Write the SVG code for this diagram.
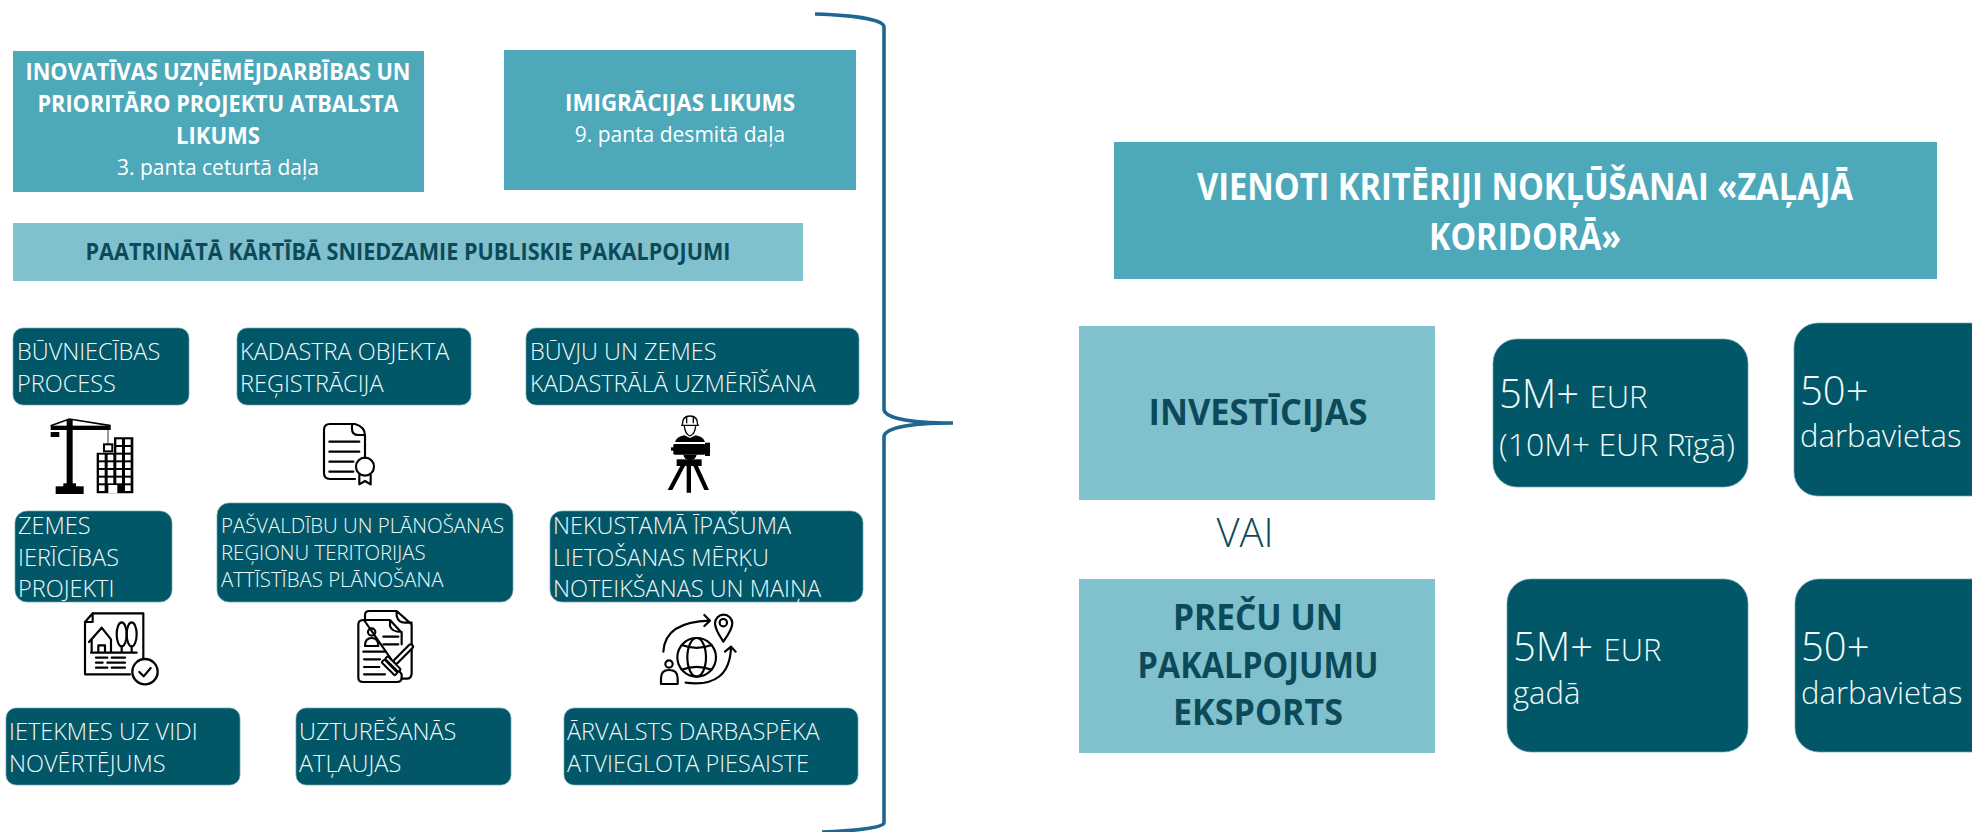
<svg xmlns="http://www.w3.org/2000/svg" width="1972" height="832" viewBox="0 0 1972 832">
<style>
text{font-family:"Open Sans","Noto Sans","Liberation Sans",sans-serif}
.dark{fill:#015767;stroke:#6fa6b1;stroke-width:.7}
.mid{fill:#4da8ba}
.light{fill:#80c1cd}
.c{font-size:23.5px;font-weight:300;fill:#f2fafb}
.p{font-size:20.4px;font-weight:300;fill:#f2fafb}
.hw{font-size:23.5px;font-weight:700;fill:#fff;text-anchor:middle}
.sw{font-size:21px;font-weight:400;fill:#fff;text-anchor:middle}
.hd{font-weight:700;fill:#0c4a5a;text-anchor:middle}
.big{font-size:40px;font-weight:300;fill:#f2fafb}
.mid30{font-size:31px;font-weight:300;fill:#f2fafb}
.ic{fill:none;stroke:#000;stroke-width:6.5;stroke-linecap:round;stroke-linejoin:round}
.blk{fill:#000}
.wht{fill:#fff}
</style>
<g id="connectors">
<path d="M815,14C850,15 884,19 884,27V409C884,417 905,423 953,423C905,423 884,429 884,437V823C884,828 850,831 822,832" fill="none" stroke="#1f6690" stroke-width="3.6"/>
</g>
<g id="law-innovation"><rect class="mid" x="13" y="51" width="411" height="141"/>
<text class="hw" x="218" y="80" textLength="385" lengthAdjust="spacingAndGlyphs">INOVATĪVAS UZŅĒMĒJDARBĪBAS UN</text>
<text class="hw" x="218" y="112" textLength="361" lengthAdjust="spacingAndGlyphs">PRIORITĀRO PROJEKTU ATBALSTA</text>
<text class="hw" x="218" y="144" textLength="84" lengthAdjust="spacingAndGlyphs">LIKUMS</text>
<text class="sw" x="218" y="175">3. panta ceturtā daļa</text></g>
<g id="law-immigration"><rect class="mid" x="504" y="50" width="352" height="140"/>
<text class="hw" x="680" y="111" textLength="230" lengthAdjust="spacingAndGlyphs">IMIGRĀCIJAS LIKUMS</text>
<text class="sw" x="680" y="142">9. panta desmitā daļa</text></g>
<g id="services-title"><rect class="light" x="13" y="223" width="790" height="58"/>
<text class="hd" x="408" y="260" font-size="23.5" textLength="645" lengthAdjust="spacingAndGlyphs">PAATRINĀTĀ KĀRTĪBĀ SNIEDZAMIE PUBLISKIE PAKALPOJUMI</text></g>

<g id="svc-buvniecibas"><rect class="dark" x="13" y="328" width="176" height="77" rx="10"/>
<text class="c" x="17" y="360">BŪVNIECĪBAS</text><text class="c" x="17" y="392">PROCESS</text></g>
<g id="svc-kadastrs"><rect class="dark" x="237" y="328" width="234" height="77" rx="10"/>
<text class="c" x="240" y="360">KADASTRA OBJEKTA</text><text class="c" x="240" y="392">REĢISTRĀCIJA</text></g>
<g id="svc-uzmerisana"><rect class="dark" x="526" y="328" width="333" height="77" rx="10"/>
<text class="c" x="530" y="360">BŪVJU UN ZEMES</text><text class="c" x="530" y="392">KADASTRĀLĀ UZMĒRĪŠANA</text></g>
<g id="svc-zemes"><rect class="dark" x="15" y="511" width="157" height="91" rx="12"/>
<text class="c" x="18" y="534">ZEMES</text><text class="c" x="18" y="566">IERĪCĪBAS</text><text class="c" x="18" y="597">PROJEKTI</text></g>
<g id="svc-pasvaldibu"><rect class="dark" x="217" y="503" width="296" height="99" rx="12"/>
<text class="p" x="221" y="533">PAŠVALDĪBU UN PLĀNOŠANAS</text><text class="p" x="221" y="560">REĢIONU TERITORIJAS</text><text class="p" x="221" y="587">ATTĪSTĪBAS PLĀNOŠANA</text></g>
<g id="svc-nekustama"><rect class="dark" x="550" y="511" width="313" height="91" rx="12"/>
<text class="c" x="553" y="534">NEKUSTAMĀ ĪPAŠUMA</text><text class="c" x="553" y="566">LIETOŠANAS MĒRĶU</text><text class="c" x="553" y="597">NOTEIKŠANAS UN MAIŅA</text></g>
<g id="svc-ietekme"><rect class="dark" x="6" y="708" width="234" height="77" rx="10"/>
<text class="c" x="9" y="740">IETEKMES UZ VIDI</text><text class="c" x="9" y="772">NOVĒRTĒJUMS</text></g>
<g id="svc-uzturesanas"><rect class="dark" x="296" y="708" width="215" height="77" rx="10"/>
<text class="c" x="299" y="740">UZTURĒŠANĀS</text><text class="c" x="299" y="772">ATĻAUJAS</text></g>
<g id="svc-arvalsts"><rect class="dark" x="564" y="708" width="294" height="77" rx="10"/>
<text class="c" x="567" y="740">ĀRVALSTS DARBASPĒKA</text><text class="c" x="567" y="772">ATVIEGLOTA PIESAISTE</text></g>

<g id="icon-crane" transform="translate(40 410) scale(.3333)">
<rect class="blk" x="80" y="28" width="18" height="205"/><rect class="blk" x="47" y="229" width="84" height="23"/><rect class="blk" x="70" y="220" width="38" height="12"/>
<rect class="blk" x="32" y="47" width="180" height="13"/><rect class="blk" x="32" y="66" width="26" height="15"/>
<path d="M32,47L88,27L212,47" fill="none" stroke="#000" stroke-width="5"/>
<path d="M204,60V102" stroke="#333" stroke-width="3" fill="none"/>
<rect x="192" y="103" width="25" height="21" fill="#fff" stroke="#000" stroke-width="6"/>
<path class="blk" d="M170,128H222V82H280V250H170Z"/>
<path class="wht" d="M205,225H232V250H205Z"/>
<g class="wht"><rect x="229" y="88" width="17" height="17"/><rect x="255" y="88" width="17" height="17"/><rect x="229" y="111" width="17" height="17"/><rect x="255" y="111" width="17" height="17"/><rect x="229" y="134" width="17" height="17"/><rect x="255" y="134" width="17" height="17"/><rect x="229" y="157" width="17" height="17"/><rect x="255" y="157" width="17" height="17"/><rect x="229" y="180" width="17" height="17"/><rect x="255" y="180" width="17" height="17"/><rect x="255" y="203" width="17" height="17"/><rect x="229" y="203" width="17" height="17"/><rect x="255" y="226" width="17" height="17"/>
<rect x="177" y="134" width="17" height="17"/><rect x="203" y="134" width="17" height="17"/><rect x="177" y="157" width="17" height="17"/><rect x="203" y="157" width="17" height="17"/><rect x="177" y="180" width="17" height="17"/><rect x="203" y="180" width="17" height="17"/><rect x="177" y="203" width="17" height="17"/><rect x="203" y="203" width="17" height="17"/><rect x="177" y="226" width="17" height="17"/></g>
</g>
<g id="icon-certificate" transform="translate(310 415) scale(.3333)">
<path class="ic" d="M135,27H60Q42,27 42,45V175Q42,192 60,192H135M135,27Q165,35 165,62V128M126,30V42Q126,60 145,60H165M58,80H148M58,110H148M58,140H130M58,170H130"/>
<circle class="ic" cx="165" cy="155" r="27"/><path class="ic" d="M148,180V208L165,198L182,208V180"/>
</g>
<g id="icon-surveyor" transform="translate(655 410) scale(.3333)">
<path d="M82,44Q82,18 105,18Q128,18 128,44M78,46H132M95,20V40M115,20V40M88,48Q90,72 105,78Q120,72 122,48" fill="none" stroke="#000" stroke-width="4"/>
<path class="blk" d="M60,96Q65,80 88,76L105,84L122,76Q145,80 150,96Z"/>
<rect class="blk" x="55" y="102" width="96" height="32" rx="4"/><rect class="blk" x="150" y="98" width="15" height="40"/><rect class="blk" x="48" y="112" width="9" height="10"/>
<path class="blk" d="M85,134H125Q122,150 105,150Q88,150 85,134Z"/><rect class="blk" x="65" y="148" width="75" height="20"/>
<path class="blk" d="M76,168H90L52,240H38ZM95,168H108V248H95ZM115,168H129L162,240H148Z"/>
</g>
<g id="icon-site-plan" transform="translate(80 606) scale(.3333)">
<path class="ic" d="M38,22H190V160M150,205H15V48L38,22V48H15"/>
<path class="ic" d="M35,140V100L65,65L93,100V140M27,108L65,65M55,140V118H75V140M33,140H170M125,120V140M155,120V140"/>
<ellipse class="ic" cx="125" cy="85" rx="15" ry="36"/><ellipse class="ic" cx="155" cy="85" rx="15" ry="36"/>
<path class="ic" d="M48,155H82M95,155H135M48,170H68M82,170H135M48,185H82M95,185H135"/>
<circle cx="195" cy="197" r="38" fill="#fff" stroke="#000" stroke-width="7"/><path class="ic" d="M178,198L191,211L212,186"/>
</g>
<g id="icon-document" transform="translate(350 606) scale(.3333)">
<path class="ic" d="M45,40V28Q45,15 58,15H140L185,55V200Q185,218 170,218H155M140,15V30Q145,50 165,50H185"/>
<path class="ic" d="M42,42H120L155,80V115M155,205V215Q155,228 140,228H40Q25,228 25,215V55Q25,42 42,42ZM120,44V60Q125,78 155,78"/>
<circle class="ic" cx="65" cy="78" r="11"/><path class="ic" d="M45,120Q45,96 65,96Q85,96 85,120Z"/>
<path class="ic" d="M100,92H145M100,115H145M40,137H105M42,160H90M42,183H88M42,205H105"/>
<path d="M182,122L138,166" fill="none" stroke="#000" stroke-width="20" stroke-linecap="round"/><path d="M182,122L138,166" fill="none" stroke="#fff" stroke-width="7" stroke-linecap="round"/>
<g transform="rotate(45 125 178)"><rect x="97" y="167" width="56" height="11" rx="3" fill="#fff" stroke="#000" stroke-width="6"/><rect x="97" y="181" width="56" height="12" rx="3" fill="#fff" stroke="#000" stroke-width="6"/></g>
</g>
<g id="icon-globe" transform="translate(655 610) scale(.3333)">
<circle class="ic" cx="125" cy="142" r="58"/><ellipse class="ic" cx="125" cy="142" rx="28" ry="58"/>
<path class="ic" d="M80,105Q125,122 170,105M80,179Q125,162 170,179"/>
<path class="ic" d="M25,125Q30,35 165,32M148,15L165,32L148,48"/>
<path class="ic" d="M205,95Q180,58 180,40A25,25 0 1 1 232,40Q232,58 205,95Z"/><circle class="ic" cx="205" cy="38" r="11"/>
<path class="ic" d="M92,218Q225,235 228,110M210,125L228,110L242,125"/>
<circle class="ic" cx="42" cy="162" r="11"/><path class="ic" d="M18,222V205Q18,180 42,180Q68,180 68,205V222Z"/>
</g>

<g id="criteria-title"><rect class="mid" x="1114" y="142" width="823" height="137"/>
<text x="1525" y="200" font-size="37" font-weight="700" fill="#fff" text-anchor="middle" textLength="656" lengthAdjust="spacingAndGlyphs">VIENOTI KRITĒRIJI NOKĻŪŠANAI «ZAĻAJĀ</text>
<text x="1525" y="250" font-size="37" font-weight="700" fill="#fff" text-anchor="middle" textLength="192" lengthAdjust="spacingAndGlyphs">KORIDORĀ»</text></g>
<g id="investicijas"><rect class="light" x="1079" y="326" width="356" height="174"/>
<text class="hd" x="1258" y="425" font-size="35" textLength="219" lengthAdjust="spacingAndGlyphs">INVESTĪCIJAS</text></g>
<g id="vai"><text x="1245" y="547" font-size="40" font-weight="300" fill="#0c4a5a" text-anchor="middle">VAI</text></g>
<g id="eksports"><rect class="light" x="1079" y="579" width="356" height="174"/>
<text class="hd" x="1258" y="630" font-size="35" textLength="170" lengthAdjust="spacingAndGlyphs">PREČU UN</text><text class="hd" x="1258" y="678" font-size="35" textLength="241" lengthAdjust="spacingAndGlyphs">PAKALPOJUMU</text><text class="hd" x="1258" y="725" font-size="35" textLength="170" lengthAdjust="spacingAndGlyphs">EKSPORTS</text></g>
<g id="inv-amount"><rect class="dark" x="1493" y="339" width="255" height="148" rx="24"/>
<text class="big" x="1499" y="408">5M+ <tspan class="mid30">EUR</tspan></text><text class="mid30" x="1499" y="456" style="font-size:32px">(10M+ EUR Rīgā)</text></g>
<g id="inv-jobs"><rect class="dark" x="1794" y="323" width="200" height="173" rx="24"/>
<text class="big" x="1800" y="405">50+</text><text class="mid30" x="1800" y="447">darbavietas</text></g>
<g id="exp-amount"><rect class="dark" x="1507" y="579" width="241" height="173" rx="24"/>
<text class="big" x="1513" y="661">5M+ <tspan class="mid30">EUR</tspan></text><text class="mid30" x="1513" y="704">gadā</text></g>
<g id="exp-jobs"><rect class="dark" x="1795" y="579" width="200" height="173" rx="24"/>
<text class="big" x="1801" y="661">50+</text><text class="mid30" x="1801" y="704">darbavietas</text></g>
</svg>
